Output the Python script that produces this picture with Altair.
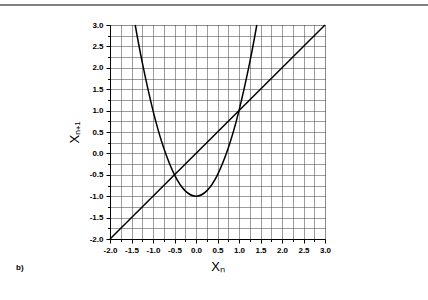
import altair as alt
import pandas as pd

# values
curve_x = [-1.414, -1.25, -1.0, -0.75, -0.5, -0.25, 0.0, 0.25, 0.5, 0.75, 1.0, 1.25, 1.414]
curve_y = [3.0, 2.125, 1.0, 0.125, -0.5, -0.875, -1.0, -0.875, -0.5, 0.125, 1.0, 2.125, 3.0]
diag_x = [-2.0, 3.0]
diag_y = [-2.0, 3.0]
tick_vals = [-2.0, -1.75, -1.5, -1.25, -1.0, -0.75, -0.5, -0.25, 0.0, 0.25, 0.5, 0.75,
             1.0, 1.25, 1.5, 1.75, 2.0, 2.25, 2.5, 2.75, 3.0]

curve = pd.DataFrame({"x": curve_x, "y": curve_y})
diag = pd.DataFrame({"x": diag_x, "y": diag_y})

label_expr = "datum.value % 0.5 == 0 ? replace(format(datum.value, '.1f'), '\u2212', '-') : ''"
tick_size = {"condition": {"test": "datum.value % 0.5 == 0", "value": 4}, "value": 2.5}

common_axis = dict(
    values=tick_vals,
    labelExpr=label_expr,
    labelOverlap=False,
    labelFlush=False,
    labelFont="Liberation Sans",
    labelFontWeight="bold",
    labelFontSize=8,
    labelColor="black",
    tickColor="black",
    tickSize=tick_size,
    domainColor="black",
    grid=True,
    gridColor="#3a3a3a",
    gridDash=[1, 1],
    gridWidth=1,
    gridOpacity=1,
    titleFont="Liberation Sans",
    titleFontWeight="normal",
    titleFontSize=13,
    titleColor="black",
)

xs = alt.Scale(domain=[-2, 3], nice=False, zero=False)
ys = alt.Scale(domain=[-2, 3], nice=False, zero=False)

def xax():
    return alt.Axis(title="X\u2099", labelPadding=3, titlePadding=6, **common_axis)

def yax():
    return alt.Axis(title="X\u2099\u208a\u2081", labelPadding=3, titlePadding=8, **common_axis)

line_curve = alt.Chart(curve).mark_line(color="black", strokeWidth=1.5, interpolate="natural").encode(
    x=alt.X("x:Q", scale=xs, axis=xax()),
    y=alt.Y("y:Q", scale=ys, axis=yax()),
)
line_diag = alt.Chart(diag).mark_line(color="black", strokeWidth=1.5).encode(
    x=alt.X("x:Q", scale=xs, axis=xax()),
    y=alt.Y("y:Q", scale=ys, axis=yax()),
)
top_rule = alt.Chart(pd.DataFrame({"a": [0]})).mark_rule(color="black", strokeWidth=1).encode(
    x=alt.value(-110), x2=alt.value(318), y=alt.value(-20)
)
blabel = alt.Chart(pd.DataFrame({"t": ["b)"]})).mark_text(
    font="Liberation Sans", fontWeight="bold", fontSize=8, align="left", baseline="middle", color="black"
).encode(text="t:N", x=alt.value(-94), y=alt.value(243))

chart = alt.layer(line_curve, line_diag, top_rule, blabel).properties(
    width=215, height=214,
    autosize=alt.AutoSizeParams(type="none"),
    padding={"left": 110, "top": 25, "right": 103, "bottom": 61},
).configure_view(stroke="black", strokeWidth=1).configure(background="white")

chart.save("out.html", embed_options={"renderer": "svg", "actions": False})
